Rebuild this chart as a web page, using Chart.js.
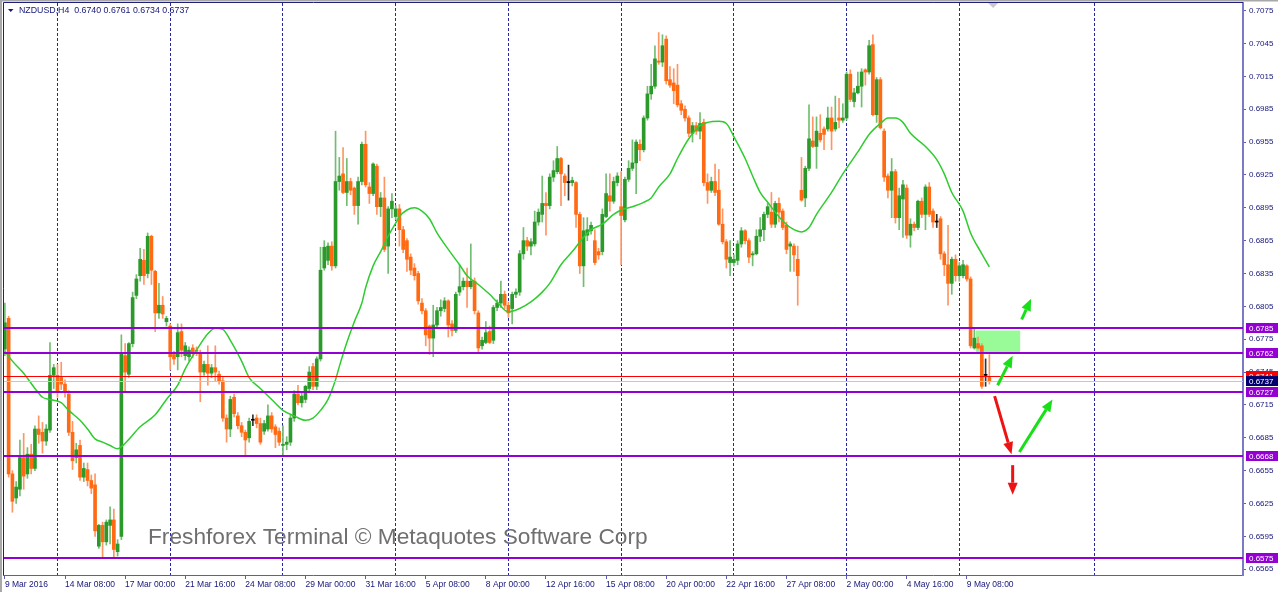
<!DOCTYPE html>
<html>
<head>
<meta charset="utf-8">
<title>NZDUSD,H4</title>
<script src="https://cdn.jsdelivr.net/npm/chart.js@4/dist/chart.umd.min.js"></script>
<style>
  html, body { margin: 0; padding: 0; background: #ffffff; }
  #wrap { width: 1278px; height: 592px; }
</style>
</head>
<body>
<div id="wrap"><canvas id="chart" width="1278" height="592"></canvas></div>
<script>
/* NZDUSD H4 candles, prices kept in pips (price * 10000) */
const symbol = 'NZDUSD';
const timeframe = 'H4';
const PIP = 10000;

const opens = [
  6766,6794,6652,6630,6638,6667,6652,6670,6657,6693,
  6690,6682,6692,6742,6742,6740,6734,6725,6690,6667,
  6678,6649,6656,6646,6642,6586,6605,6590,6605,6610,
  6581,6595,6760,6743,6771,6815,6833,6847,6835,6869,
  6837,6799,6806,6791,6787,6761,6759,6782,6760,6759,
  6767,6765,6762,6745,6752,6744,6749,6743,6737,6703,
  6693,6722,6705,6696,6690,6685,6701,6703,6698,6691,
  6693,6705,6695,6691,6678,6679,6681,6703,6725,6717,
  6720,6730,6750,6732,6757,6840,6847,6860,6842,6919,
  6926,6909,6919,6913,6897,6919,6953,6914,6908,6933,
  6896,6904,6860,6894,6887,6894,6875,6865,6850,6840,
  6835,6808,6801,6787,6776,6788,6801,6803,6810,6789,
  6783,6818,6823,6828,6823,6828,6799,6769,6772,6782,
  6774,6804,6808,6816,6806,6803,6816,6818,6853,6865,
  6860,6862,6882,6889,6899,6897,6923,6928,6940,6924,
  6918,6918,6918,6889,6842,6870,6874,6865,6855,6855,
  6887,6906,6901,6918,6896,6884,6921,6931,6936,6953,
  6948,6977,6999,7006,7029,7028,7049,7012,7009,7007,
  6990,6985,6977,6963,6970,6965,6973,6918,6911,6919,
  6911,6880,6864,6845,6845,6847,6862,6874,6865,6852,
  6853,6869,6875,6889,6891,6880,6899,6892,6879,6860,
  6860,6848,6911,6904,6931,6956,6951,6963,6967,6967,
  6977,6967,6977,6975,6977,7017,6992,7000,7006,7021,
  7019,7044,6980,7012,6965,6924,6911,6928,6886,6903,
  6913,6870,6880,6877,6901,6889,6914,6892,6882,6885,
  6853,6843,6826,6848,6833,6833,6842,6830,6767,6771,
  6769,6742,6740
];
const highs = [
  6808,6796,6655,6645,6683,6689,6676,6679,6696,6705,
  6699,6697,6772,6752,6752,6754,6738,6728,6700,6680,
  6683,6662,6662,6651,6652,6606,6608,6610,6622,6620,
  6592,6779,6771,6772,6818,6834,6858,6857,6872,6870,
  6838,6826,6814,6796,6789,6764,6789,6789,6772,6768,
  6770,6768,6765,6755,6769,6752,6769,6746,6740,6706,
  6723,6725,6708,6699,6692,6703,6706,6706,6703,6701,
  6715,6708,6697,6694,6696,6686,6706,6728,6733,6727,
  6733,6750,6753,6759,6859,6865,6863,6864,6965,6941,
  6950,6940,6922,6914,6923,6955,6965,6918,6936,6935,
  6909,6923,6896,6908,6897,6898,6878,6867,6853,6844,
  6837,6812,6803,6788,6806,6804,6811,6813,6811,6792,
  6818,6843,6831,6840,6862,6831,6801,6777,6791,6787,
  6806,6811,6828,6819,6809,6818,6821,6856,6877,6868,
  6867,6892,6894,6924,6909,6926,6938,6951,6941,6926,
  6934,6923,6919,6891,6886,6886,6882,6875,6858,6894,
  6926,6926,6923,6927,6928,6923,6938,6957,6957,6957,
  6979,7006,7026,7043,7055,7053,7052,7024,7022,7026,
  6993,6988,6979,6973,6973,6982,6976,6926,6923,6935,
  6930,6894,6866,6865,6852,6865,6877,6875,6867,6855,
  6875,6886,6891,6899,6909,6901,6904,6894,6882,6864,
  6862,6860,6941,6933,6989,6978,6978,6980,6969,6987,
  6987,6997,6995,6990,7019,7021,7004,7019,7022,7022,
  7048,7053,7014,7014,6967,6926,6940,6930,6913,6920,
  6916,6885,6882,6902,6904,6916,6918,6894,6889,6887,
  6855,6879,6850,6852,6845,6847,6843,6832,6784,6777,
  6771,6757,6761
];
const lows = [
  6760,6649,6617,6625,6632,6638,6648,6652,6655,6680,
  6671,6678,6690,6730,6722,6729,6722,6687,6656,6662,
  6646,6645,6641,6634,6595,6584,6576,6587,6588,6575,
  6577,6592,6728,6740,6768,6812,6828,6825,6831,6825,
  6782,6794,6794,6787,6747,6752,6747,6759,6756,6755,
  6758,6760,6718,6742,6733,6740,6737,6734,6700,6681,
  6686,6704,6693,6686,6669,6681,6696,6694,6679,6688,
  6691,6690,6676,6678,6668,6674,6678,6700,6715,6713,
  6717,6727,6729,6729,6755,6838,6843,6838,6840,6911,
  6908,6897,6907,6889,6880,6916,6914,6899,6906,6889,
  6887,6855,6835,6886,6884,6860,6854,6837,6834,6829,
  6807,6798,6769,6761,6759,6786,6796,6800,6777,6778,
  6781,6815,6820,6804,6821,6798,6762,6766,6771,6771,
  6771,6801,6804,6803,6795,6789,6813,6815,6848,6856,
  6852,6860,6879,6882,6870,6894,6919,6926,6897,6906,
  6902,6915,6877,6835,6823,6865,6871,6843,6848,6852,
  6886,6892,6899,6915,6843,6882,6919,6929,6908,6938,
  6946,6975,6994,7004,7026,7024,7008,7005,6990,6987,
  6980,6974,6960,6955,6962,6958,6915,6899,6909,6906,
  6879,6862,6840,6833,6842,6843,6859,6862,6845,6842,
  6852,6864,6865,6886,6877,6877,6882,6875,6853,6837,
  6837,6806,6901,6896,6929,6950,6931,6955,6948,6965,
  6948,6965,6968,6973,6975,6992,6987,6999,6987,7007,
  7017,6979,6973,6967,6919,6904,6886,6881,6875,6868,
  6867,6859,6874,6875,6886,6875,6887,6877,6877,6848,
  6833,6806,6816,6828,6828,6831,6828,6767,6766,6766,
  6730,6732,6734
];
const closes = [
  6790,6652,6627,6640,6667,6650,6670,6657,6693,6688,
  6682,6693,6742,6749,6728,6734,6727,6690,6664,6674,
  6649,6657,6646,6639,6600,6605,6590,6608,6610,6583,
  6588,6762,6745,6771,6813,6830,6848,6833,6869,6838,
  6799,6806,6798,6794,6759,6757,6781,6765,6769,6765,
  6762,6764,6745,6752,6744,6749,6745,6737,6703,6693,
  6720,6707,6696,6690,6683,6700,6701,6698,6681,6698,
  6705,6693,6688,6681,6679,6681,6703,6725,6717,6723,
  6732,6745,6732,6757,6838,6859,6860,6842,6919,6924,
  6909,6919,6911,6897,6919,6953,6916,6908,6935,6896,
  6904,6857,6894,6901,6894,6875,6857,6848,6838,6833,
  6810,6801,6779,6776,6788,6801,6804,6810,6788,6783,
  6816,6823,6828,6823,6828,6801,6767,6774,6781,6772,
  6804,6808,6816,6806,6799,6816,6818,6853,6865,6860,
  6864,6882,6891,6899,6897,6923,6929,6940,6926,6918,
  6918,6920,6889,6842,6874,6875,6879,6845,6852,6889,
  6908,6901,6919,6924,6888,6921,6931,6936,6955,6948,
  6977,6999,7006,7031,7028,7043,7011,7007,7002,6989,
  6984,6977,6963,6970,6965,6972,6918,6911,6919,6909,
  6880,6864,6848,6850,6848,6862,6874,6865,6850,6853,
  6869,6875,6889,6896,6880,6899,6891,6877,6857,6862,
  6852,6833,6902,6931,6958,6951,6965,6957,6962,6977,
  6965,6973,6975,6977,7017,6994,7000,7006,7019,7019,
  7043,6980,7012,6968,6923,6911,6928,6886,6906,6916,
  6870,6880,6877,6901,6889,6914,6889,6882,6882,6853,
  6843,6826,6848,6833,6842,6843,6830,6769,6776,6767,
  6732,6742,6737
];

// moving average: bar number -> value (pips)
const maBars = [0,2,5,8,10,12,15,17,20,22,24,26,28,30,32,36,40,43,46,48,51,54,56,58,60,63,65,68,71,74,77,80,82,84,86,88,89,91,93,95,96,98,100,102,104,105,107,109,111,113,115,118,121,123,126,129,131,134,137,140,143,145,148,151,154,156,159,162,164,167,170,172,174,177,179,182,185,187,190,192,194,197,199,201,203,207,210,212,214,216,220,223,227,230,233,235,237,239,241,245,248,250,252,255,257,260,262];
const maValues = [6764,6755,6744,6730,6722,6720,6717,6710,6701,6693,6684,6681,6678,6675,6680,6695,6706,6720,6733,6748,6765,6780,6785,6784,6774,6755,6740,6730,6720,6710,6705,6701,6703,6710,6720,6738,6750,6772,6791,6808,6822,6842,6855,6869,6881,6887,6893,6895,6892,6885,6872,6857,6843,6833,6825,6816,6809,6800,6803,6809,6818,6826,6843,6855,6868,6875,6880,6889,6893,6896,6900,6904,6914,6926,6940,6958,6970,6973,6974,6972,6960,6940,6924,6909,6900,6883,6875,6873,6877,6889,6909,6926,6946,6962,6972,6977,6977,6973,6963,6951,6939,6926,6909,6892,6872,6853,6841];

// time axis: a label every 16 bars, week separators (Monday 00:00)
const dateLabels = ['9 Mar 2016','14 Mar 08:00','17 Mar 00:00','21 Mar 16:00','24 Mar 08:00','29 Mar 00:00','31 Mar 16:00','5 Apr 08:00','8 Apr 00:00','12 Apr 16:00','15 Apr 08:00','20 Apr 00:00','22 Apr 16:00','27 Apr 08:00','2 May 00:00','4 May 16:00','9 May 08:00'];
const barsPerLabel = 16;
const weekBars = [14,44,74,104,134,164,194,224,254,290];
const slotCount = 330;   // bars + empty space to the right

// price axis
const priceTicks = [0.7075,0.7045,0.7015,0.6985,0.6955,0.6925,0.6895,0.6865,0.6835,0.6805,0.6775,0.6745,0.6715,0.6685,0.6655,0.6625,0.6595,0.6565];
const priceMin = 0.65597;
const priceMax = 0.70820;

// drawn objects
const levels = [0.6785, 0.6762, 0.6727, 0.6668, 0.6575];
const alertLevel = 0.6741;
const zoneBars = [258.4, 270.2];
const zonePrices = [0.6763, 0.6783];
const upArrows = [[270.6,0.6793,273.1,0.6812],[264.2,0.6733,268.2,0.6760],[270.0,0.6672,278.8,0.6720]];
const downArrows = [[263.4,0.6723,267.9,0.6670],[268.2,0.6660,268.2,0.6633]];

const COLORS = {
  bull: '#2b9a2b', bear: '#ff6a13', doji: '#000000',
  bullWick: '#72bd72', bearWick: '#ff9560',
  ma: '#2fcc2f', grid: '#2626a0', axis: '#5c5cb4', axisY: '#7a7ac6', text: '#16167a',
  level: '#9400d3', alert: '#ff0000', bid: '#c6c6c6', bidBox: '#00006e',
  zone: '#98fb98', up: '#19df19', down: '#ef1212', watermark: '#6f6f6f'
};
const FONT = '"Liberation Sans", Arial, sans-serif';

const n = closes.length;
const labels = Array.from({ length: slotCount }, (_, i) =>
  (i < n && i % barsPerLabel === 0) ? (dateLabels[i / barsPerLabel] || '') : '');
const weekSet = new Set(weekBars);

const dir = i => closes[i] > opens[i] ? 1 : (closes[i] < opens[i] ? -1 : 0);
const bodyData = labels.map((_, i) => i < n ? [opens[i] / PIP, closes[i] / PIP] : null);
const wickData = labels.map((_, i) => i < n ? [lows[i] / PIP, highs[i] / PIP] : null);
const bodyColors = labels.map((_, i) => i >= n ? COLORS.doji : dir(i) > 0 ? COLORS.bull : dir(i) < 0 ? COLORS.bear : COLORS.doji);
const wickColors = labels.map((_, i) => i >= n ? COLORS.doji : dir(i) > 0 ? COLORS.bullWick : dir(i) < 0 ? COLORS.bearWick : '#333333');
const maData = labels.map(() => null);
maBars.forEach((b, k) => { maData[b] = maValues[k] / PIP; });

function drawArrow(ctx, x0, y0, x1, y1, color) {
  const ang = Math.atan2(y1 - y0, x1 - x0);
  const head = 12, half = 5;
  const bx = x1 - head * Math.cos(ang), by = y1 - head * Math.sin(ang);
  ctx.strokeStyle = color;
  ctx.lineWidth = 3;
  ctx.beginPath(); ctx.moveTo(x0, y0); ctx.lineTo(bx, by); ctx.stroke();
  ctx.fillStyle = color;
  ctx.beginPath();
  ctx.moveTo(x1, y1);
  ctx.lineTo(bx + half * Math.sin(ang), by - half * Math.cos(ang));
  ctx.lineTo(bx - half * Math.sin(ang), by + half * Math.cos(ang));
  ctx.closePath(); ctx.fill();
}

function priceBox(ctx, y, value, bg) {
  ctx.fillStyle = bg;
  ctx.fillRect(1246, Math.round(y) - 5, 32, 10);
  ctx.fillStyle = '#ffffff';
  ctx.font = '8px ' + FONT;
  ctx.textAlign = 'left';
  ctx.textBaseline = 'middle';
  ctx.fillText(value.toFixed(4), 1249, Math.round(y) + 0.5);
}

const terminalPlugin = {
  id: 'terminal',
  beforeDraw(chart) {
    const { ctx, width, height } = chart;
    ctx.save();
    ctx.fillStyle = '#ffffff';
    ctx.fillRect(0, 0, width, height);
    ctx.restore();
  },
  beforeDatasetsDraw(chart) {
    const { ctx, scales: { x, y } } = chart;
    ctx.save();
    ctx.fillStyle = COLORS.zone;
    const x0 = x.getPixelForValue(zoneBars[0]), x1 = x.getPixelForValue(zoneBars[1]);
    const y0 = y.getPixelForValue(zonePrices[1]), y1 = y.getPixelForValue(zonePrices[0]);
    ctx.fillRect(x0, y0, x1 - x0, y1 - y0);
    ctx.restore();
  },
  afterDatasetsDraw(chart) {
    const { ctx, chartArea: a, scales: { x, y } } = chart;
    ctx.save();
    ctx.beginPath(); ctx.rect(a.left, a.top, a.right - a.left, a.bottom - a.top); ctx.clip();
    const hline = (p, color, w) => {
      const py = Math.round(y.getPixelForValue(p)) + (w % 2 ? 0.5 : 0);
      ctx.strokeStyle = color; ctx.lineWidth = w;
      ctx.beginPath(); ctx.moveTo(a.left, py); ctx.lineTo(a.right, py); ctx.stroke();
    };
    hline(closes[n - 1] / PIP, COLORS.bid, 1);
    hline(alertLevel, COLORS.alert, 1);
    levels.forEach(p => hline(p, COLORS.level, 2));
    upArrows.forEach(r => drawArrow(ctx, x.getPixelForValue(r[0]), y.getPixelForValue(r[1]),
      x.getPixelForValue(r[2]), y.getPixelForValue(r[3]), COLORS.up));
    downArrows.forEach(r => drawArrow(ctx, x.getPixelForValue(r[0]), y.getPixelForValue(r[1]),
      x.getPixelForValue(r[2]), y.getPixelForValue(r[3]), COLORS.down));
    ctx.restore();
  },
  afterDraw(chart) {
    const { ctx, chartArea: a, scales: { x, y } } = chart;
    ctx.save();
    // window edge + chart frame
    ctx.fillStyle = '#a8a8a8';
    ctx.fillRect(0, 0, 2, 592);
    ctx.fillRect(0, 0, 1278, 1.5);
    ctx.strokeStyle = '#20207a';
    ctx.lineWidth = 1;
    ctx.beginPath();
    ctx.moveTo(a.left + 0.5, a.bottom); ctx.lineTo(a.left + 0.5, a.top - 0.5); ctx.lineTo(a.right, a.top - 0.5);
    ctx.stroke();

    // price labels of the drawn lines
    levels.forEach(p => priceBox(ctx, y.getPixelForValue(p), p, COLORS.level));
    priceBox(ctx, y.getPixelForValue(alertLevel), alertLevel, COLORS.alert);
    priceBox(ctx, y.getPixelForValue(closes[n - 1] / PIP), closes[n - 1] / PIP, COLORS.bidBox);

    // shift marker
    const sx = x.getPixelForValue(n);
    ctx.fillStyle = '#c8c8c8';
    ctx.beginPath(); ctx.moveTo(sx - 5, a.top); ctx.lineTo(sx + 5, a.top); ctx.lineTo(sx, a.top + 5); ctx.closePath(); ctx.fill();

    // title line
    ctx.fillStyle = COLORS.text;
    ctx.beginPath(); ctx.moveTo(8, 9); ctx.lineTo(13.5, 9); ctx.lineTo(10.75, 12); ctx.closePath(); ctx.fill();
    ctx.font = '8.8px ' + FONT;
    ctx.textAlign = 'left';
    ctx.textBaseline = 'middle';
    const last = n - 1;
    const f = v => (v / PIP).toFixed(4);
    ctx.fillText(symbol + ',' + timeframe + '  ' + [opens[last], highs[last], lows[last], closes[last]].map(f).join(' '), 19, 11);

    // watermark
    ctx.fillStyle = COLORS.watermark;
    ctx.font = '22.7px ' + FONT;
    ctx.textBaseline = 'alphabetic';
    ctx.fillText('Freshforex Terminal \u00A9 Metaquotes Software Corp', 148, 544);
    ctx.restore();
  }
};

new Chart(document.getElementById('chart'), {
  type: 'bar',
  data: {
    labels,
    datasets: [
      {
        type: 'line', label: 'MA', data: maData, borderColor: COLORS.ma, borderWidth: 1.5,
        pointRadius: 0, spanGaps: true, cubicInterpolationMode: 'monotone', fill: false
      },
      {
        label: 'body', data: bodyData, backgroundColor: bodyColors, borderWidth: 0,
        barThickness: 3, grouped: false, minBarLength: 1
      },
      {
        label: 'wick', data: wickData, backgroundColor: wickColors, borderWidth: 0,
        barThickness: 1, grouped: false
      }
    ]
  },
  options: {
    responsive: false,
    devicePixelRatio: 1,
    animation: false,
    layout: { padding: { left: 3, top: 3, right: 0, bottom: 0 } },
    plugins: { legend: { display: false }, tooltip: { enabled: false }, title: { display: false } },
    scales: {
      x: {
        type: 'category',
        offset: true,
        grid: {
          offset: false,
          color: ctx => weekSet.has(ctx.index) ? COLORS.grid : 'rgba(0,0,0,0)',
          tickColor: ctx => labels[ctx.index] ? COLORS.axis : 'rgba(0,0,0,0)',
          tickLength: 4,
          lineWidth: 1
        },
        border: { color: COLORS.axis, width: 1, dash: [3, 2] },
        ticks: {
          autoSkip: false, maxRotation: 0, minRotation: 0, align: 'start', padding: 1,
          color: COLORS.text, font: { family: FONT, size: 8.5 },
          callback: (v, i) => labels[i]
        },
        afterFit: s => { s.height = 17; s.paddingLeft = 0; s.paddingRight = 0; }
      },
      y: {
        type: 'linear',
        position: 'right',
        min: priceMin,
        max: priceMax,
        afterBuildTicks: s => { s.ticks = priceTicks.map(v => ({ value: v })); },
        grid: { drawOnChartArea: false, tickLength: 3, tickColor: COLORS.axis },
        border: { color: COLORS.axisY, width: 2 },
        ticks: {
          padding: 3, color: COLORS.text, font: { family: FONT, size: 8 },
          callback: v => Number(v).toFixed(4)
        },
        afterFit: s => { s.width = 35; s.paddingTop = 0; s.paddingBottom = 0; }
      }
    }
  },
  plugins: [terminalPlugin]
});
</script>
</body>
</html>
